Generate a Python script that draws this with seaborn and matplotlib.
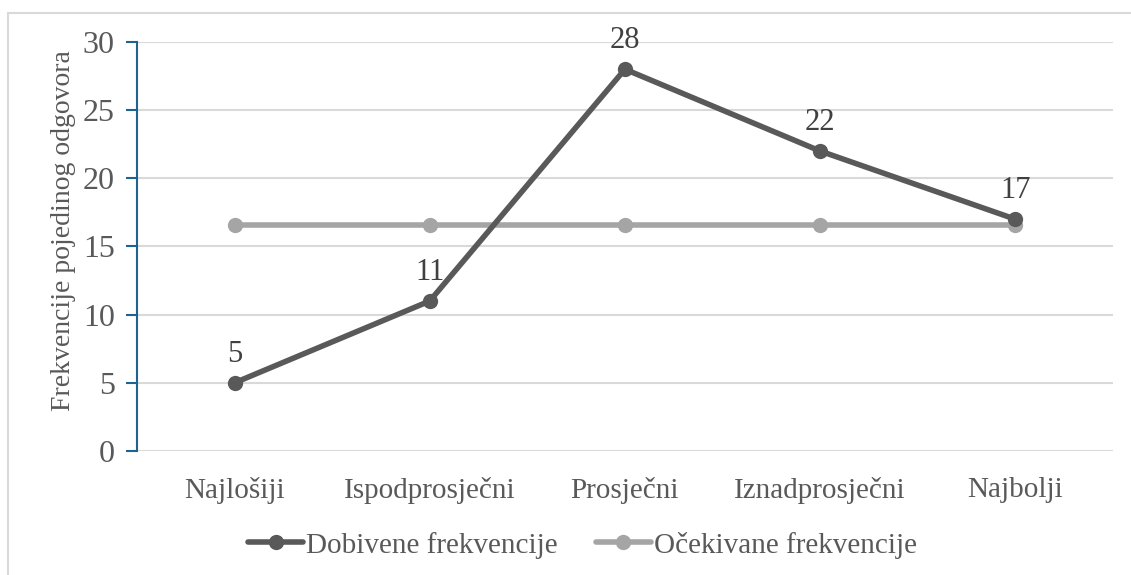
import pandas as pd
import seaborn as sns
import matplotlib.pyplot as plt
from matplotlib.patches import Rectangle

# podaci
kategorije = ["Najlošiji", "Ispodprosječni", "Prosječni", "Iznadprosječni", "Najbolji"]
dobivene = [5, 11, 28, 22, 17]
ocekivane = [16.6, 16.6, 16.6, 16.6, 16.6]
serije = ["Dobivene frekvencije", "Očekivane frekvencije"]
boje = ["#595959", "#A5A5A5"]

sns.set_theme(style="white")
plt.rcParams["font.family"] = ["Liberation Serif", "DejaVu Serif"]
plt.rcParams["text.color"] = "#595959"

df = pd.DataFrame({
    "kategorija": kategorije * 2,
    "frekvencija": dobivene + ocekivane,
    "serija": [serije[0]] * 5 + [serije[1]] * 5,
})

fig = plt.figure(figsize=(11.31, 5.75), dpi=100)
ax = fig.add_axes([0.1211, 0.2157, 0.8629, 0.7113])

# okvir grafikona
fig.patches.append(Rectangle((8 / 1131, -0.1), 1.2, 1 - 13 / 575 + 0.1,
                             transform=fig.transFigure, fill=False,
                             edgecolor="#D9D9D9", linewidth=1.5))

sns.lineplot(data=df, x="kategorija", y="frekvencija", hue="serija",
             hue_order=serije[::-1], palette=dict(zip(serije, boje)),
             marker="o", markersize=11, markeredgewidth=0, linewidth=4,
             sort=False, ax=ax, legend=False)

# oznake vrijednosti
for i, v in enumerate(dobivene):
    ax.annotate(str(v), (i, v), xytext=(0, 10), textcoords="offset points",
                ha="center", va="bottom", fontsize=22, color="#404040")

ax.set_xlim(-0.5, 4.5)
ax.set_ylim(0, 30)
ax.set_yticks(range(0, 31, 5))
ax.yaxis.grid(True, color="#D9D9D9", linewidth=1.5)
ax.set_axisbelow(True)
ax.set_xlabel("")
ax.set_ylabel("Frekvencije pojedinog odgovora", fontsize=20, color="#595959")
ax.yaxis.set_label_coords(-0.062, 0.54)
for s in ["top", "right", "bottom"]:
    ax.spines[s].set_visible(False)
ax.spines["left"].set_color("#1F6391")
ax.spines["left"].set_linewidth(1.5)
ax.tick_params(axis="y", which="both", left=True, length=8, width=1.5,
               color="#1F6391", labelsize=23, labelcolor="#595959", pad=8)
ax.tick_params(axis="x", bottom=False, labelsize=21, labelcolor="#595959", pad=13)

# legenda
handles = [plt.Line2D([], [], color=c, linewidth=4, marker="o", markersize=11,
                      markeredgewidth=0) for c in boje]
fig.legend(handles, serije, loc="center", bbox_to_anchor=(0.515, 0.052), ncol=2,
           frameon=False, fontsize=21, handlelength=1.9, handletextpad=0.1,
           columnspacing=1.3, labelcolor="#595959")

fig.savefig("out.png", dpi=100)
